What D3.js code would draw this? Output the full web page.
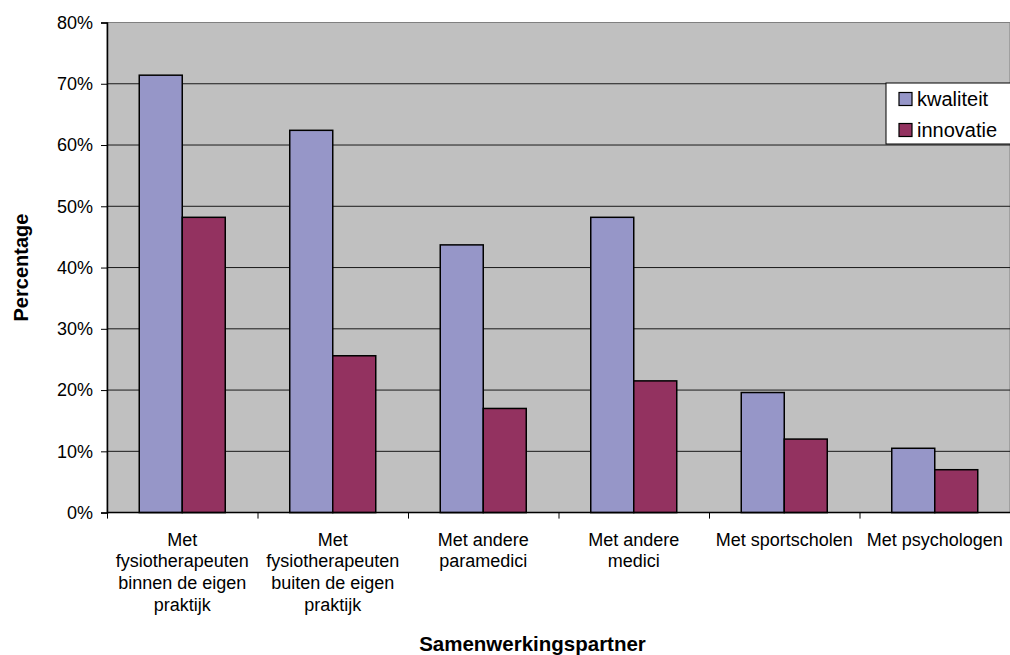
<!DOCTYPE html>
<html>
<head>
<meta charset="utf-8">
<script src="https://d3js.org/d3.v7.min.js"></script>
<style>
  body { margin: 0; background: #fff; }
  svg text { font-family: "Liberation Sans", Arial, sans-serif; fill: #000; }
</style>
</head>
<body>
<script>
  var categories = [
    ["Met", "fysiotherapeuten", "binnen de eigen", "praktijk"],
    ["Met", "fysiotherapeuten", "buiten de eigen", "praktijk"],
    ["Met andere", "paramedici"],
    ["Met andere", "medici"],
    ["Met sportscholen"],
    ["Met psychologen"]
  ];
  var seriesNames = ["kwaliteit", "innovatie"];
  var kwaliteit = [71.4, 62.4, 43.7, 48.2, 19.6, 10.5];
  var innovatie = [48.2, 25.6, 17.0, 21.5, 12.0, 7.0];
  var yTicks = [0, 10, 20, 30, 40, 50, 60, 70, 80];
  var colors = ["#9696c8", "#933260"];

  var w = 1010, h = 655,
      pLeft = 107, pRight = 1010, pTop = 22.5, pBottom = 512.6;

  var svg = d3.select("body").append("svg")
    .attr("width", w)
    .attr("height", h);

  var x = d3.scaleBand()
    .domain(d3.range(categories.length))
    .range([pLeft, pRight])
    .paddingInner(0).paddingOuter(0);

  var xs = d3.scaleBand()
    .domain(seriesNames)
    .range([0, x.bandwidth()])
    .paddingInner(0)
    .paddingOuter(0.75);

  var y = d3.scaleLinear().domain([0, 80]).range([pBottom, pTop]);

  // plot background
  svg.append("rect")
    .attr("x", pLeft).attr("y", pTop)
    .attr("width", pRight - pLeft).attr("height", pBottom - pTop)
    .attr("fill", "#c0c0c0")
    .attr("stroke", "#808080").attr("stroke-width", 1);

  // gridlines
  svg.append("g").selectAll("line")
    .data(yTicks.slice(1, -1))
    .enter().append("line")
      .attr("x1", pLeft).attr("x2", pRight)
      .attr("y1", function(d) { return y(d); })
      .attr("y2", function(d) { return y(d); })
      .attr("stroke", "#1a1a1a").attr("stroke-width", 1);

  // bars
  var rows = categories.map(function(c, i) {
    return [{s: "kwaliteit", v: kwaliteit[i], k: 0}, {s: "innovatie", v: innovatie[i], k: 1}];
  });

  svg.append("g").selectAll("g")
    .data(rows)
    .enter().append("g")
      .attr("transform", function(d, i) { return "translate(" + x(i) + ",0)"; })
    .selectAll("rect")
    .data(function(d) { return d; })
    .enter().append("rect")
      .attr("x", function(d) { return xs(d.s); })
      .attr("width", xs.bandwidth())
      .attr("y", function(d) { return y(d.v); })
      .attr("height", function(d) { return pBottom - y(d.v); })
      .attr("fill", function(d) { return colors[d.k]; })
      .attr("stroke", "#000").attr("stroke-width", 1.5);

  // y axis
  var yAxis = d3.axisLeft(y)
    .tickValues(yTicks)
    .tickFormat(function(d) { return d + "%"; })
    .tickSize(6).tickPadding(8);

  var gy = svg.append("g")
    .attr("transform", "translate(" + pLeft + ",0)")
    .call(yAxis);
  gy.select(".domain").attr("stroke", "#000").attr("stroke-width", 1.5);
  gy.selectAll("text")
    .attr("font-family", null)
    .style("font-size", "18px");

  // x axis
  var xb = d3.scaleLinear().domain([0, categories.length]).range([pLeft, pRight]);
  var gx = svg.append("g")
    .attr("transform", "translate(0," + pBottom + ")")
    .call(d3.axisBottom(xb).ticks(categories.length).tickSize(6).tickFormat(""));
  gx.select(".domain").attr("d", "M" + pLeft + ",0H" + pRight).attr("stroke", "#000").attr("stroke-width", 1.5);

  // category labels
  svg.append("g").selectAll("text")
    .data(categories)
    .enter().append("text")
      .attr("x", function(d, i) { return x(i) + x.bandwidth() / 2; })
      .attr("y", 545.7)
      .attr("text-anchor", "middle")
      .style("font-size", "18px")
      .each(function(d) {
        var t = d3.select(this);
        d.forEach(function(line, j) {
          t.append("tspan")
            .attr("x", t.attr("x"))
            .attr("dy", j === 0 ? 0 : 21.6)
            .text(line);
        });
      });

  // axis titles
  svg.append("text")
    .attr("transform", "translate(27.5," + ((pTop + pBottom) / 2) + ")rotate(-90)")
    .attr("text-anchor", "middle")
    .style("font-size", "20px").style("font-weight", "bold")
    .text("Percentage");

  svg.append("text")
    .attr("x", (pLeft + pRight) / 2 - 26).attr("y", 651)
    .attr("text-anchor", "middle")
    .style("font-size", "20.5px").style("font-weight", "bold")
    .text("Samenwerkingspartner");

  // legend
  var lg = svg.append("g").attr("transform", "translate(886,83)");
  lg.append("rect")
    .attr("width", 126).attr("height", 61)
    .attr("fill", "#fff").attr("stroke", "#000").attr("stroke-width", 1);
  var li = lg.selectAll("g.item")
    .data(seriesNames)
    .enter().append("g")
      .attr("class", "item")
      .attr("transform", function(d, i) { return "translate(13," + (9.5 + i * 31) + ")"; });
  li.append("rect")
    .attr("width", 13).attr("height", 13)
    .attr("fill", function(d, i) { return colors[i]; })
    .attr("stroke", "#000").attr("stroke-width", 1.2);
  li.append("text")
    .attr("x", 18).attr("y", 13.5)
    .style("font-size", "20px")
    .text(function(d) { return d; });
</script>
</body>
</html>
